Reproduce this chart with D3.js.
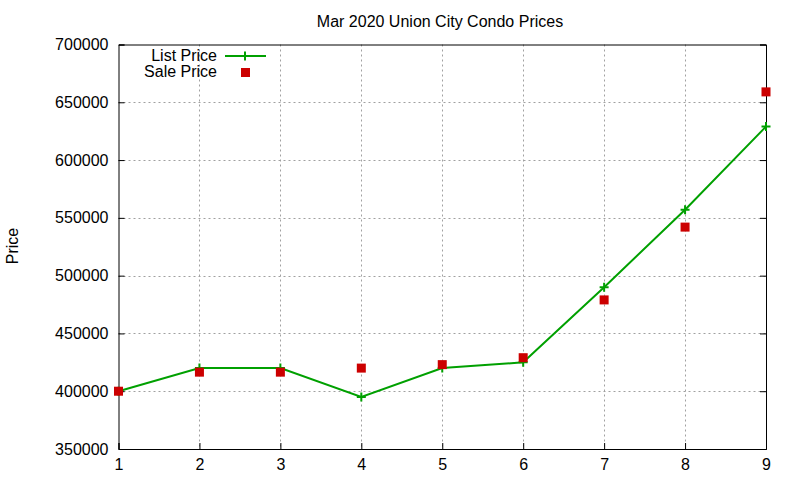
<!DOCTYPE html>
<html>
<head>
<meta charset="utf-8">
<script src="https://cdn.jsdelivr.net/npm/d3@7"></script>
<style>
  body { margin: 0; background: #fff; }
  text { font-family: "Liberation Sans", Arial, sans-serif; fill: #000; }
</style>
</head>
<body>
<div id="chart"></div>
<script>
// chart data
const months = [1, 2, 3, 4, 5, 6, 7, 8, 9];
const listPrice = [400000, 420000, 420000, 395000, 420000, 425000, 490000, 557000, 629000];
const salePrice = [400000, 416500, 416500, 420000, 423000, 429000, 479000, 542000, 659000];
const yTicks = [350000, 400000, 450000, 500000, 550000, 600000, 650000, 700000];

const width = 800, height = 480;
const margin = { top: 44.5, right: 34, bottom: 31, left: 118.5 };

const svg = d3.select('#chart').append('svg')
    .attr('width', width)
    .attr('height', height);

const x = d3.scaleLinear().domain([1, 9]).range([margin.left, width - margin.right]);
const y = d3.scaleLinear().domain([350000, 700000]).range([height - margin.bottom, margin.top]);

// grid
const grid = svg.append('g').attr('stroke', '#a0a0a0').attr('stroke-width', 1).attr('stroke-dasharray', '2,3');
months.slice(1, -1).forEach(m => {
    grid.append('line')
        .attr('x1', Math.round(x(m)) + 0.5).attr('x2', Math.round(x(m)) + 0.5)
        .attr('y1', y(700000)).attr('y2', y(350000));
});
yTicks.slice(1, -1).forEach(v => {
    grid.append('line')
        .attr('x1', x(1)).attr('x2', x(9))
        .attr('y1', Math.round(y(v)) + 0.5).attr('y2', Math.round(y(v)) + 0.5);
});

// axes (gnuplot style: inward ticks, y mirrored on the right)
const tick = 6;
svg.append('g')
    .attr('transform', `translate(${margin.left},0)`)
    .call(d3.axisLeft(y).tickValues(yTicks).tickSize(-tick).tickPadding(10).tickFormat(d3.format('d')))
    .call(g => g.selectAll('text').attr('font-size', 16));
svg.append('g')
    .attr('transform', `translate(${width - margin.right},0)`)
    .call(d3.axisRight(y).tickValues(yTicks).tickSize(-tick).tickFormat(''));
svg.append('g')
    .attr('transform', `translate(0,${height - margin.bottom})`)
    .call(d3.axisBottom(x).tickValues(months).tickSize(-tick).tickPadding(10).tickFormat(d3.format('d')))
    .call(g => g.selectAll('text').attr('font-size', 16));
svg.append('g')
    .attr('transform', `translate(0,${margin.top})`)
    .call(d3.axisTop(x).tickValues([]).tickSizeOuter(0));
svg.selectAll('.domain').attr('stroke', '#000').attr('stroke-width', 1);
svg.selectAll('.tick line').attr('stroke', '#000');

// list price line
const green = '#00a000';
svg.append('path')
    .datum(months)
    .attr('fill', 'none')
    .attr('stroke', green)
    .attr('stroke-width', 2)
    .attr('d', d3.line().x(m => x(m)).y((m, i) => y(listPrice[i])));

svg.append('g').selectAll('path')
    .data(months)
    .join('path')
    .attr('transform', (m, i) => `translate(${x(m)},${y(listPrice[i])})`)
    .attr('d', 'M-4.5,0H4.5M0,-4.5V4.5')
    .attr('stroke', green)
    .attr('stroke-width', 2);

// sale price points
const red = '#cc0000';
svg.append('g').selectAll('rect')
    .data(months)
    .join('rect')
    .attr('x', m => x(m) - 4.5)
    .attr('y', (m, i) => y(salePrice[i]) - 4.5)
    .attr('width', 9)
    .attr('height', 9)
    .attr('fill', red);

// title
svg.append('text')
    .attr('x', 440).attr('y', 27)
    .attr('text-anchor', 'middle')
    .attr('font-size', 16)
    .text('Mar 2020 Union City Condo Prices');

// y label
svg.append('text')
    .attr('transform', 'translate(18,246) rotate(-90)')
    .attr('text-anchor', 'middle')
    .attr('font-size', 16)
    .text('Price');

// legend
const legend = svg.append('g');
legend.append('text').attr('x', 217).attr('y', 61).attr('text-anchor', 'end').attr('font-size', 16).text('List Price');
legend.append('line').attr('x1', 225).attr('x2', 266).attr('y1', 56).attr('y2', 56)
    .attr('stroke', green).attr('stroke-width', 2);
legend.append('path').attr('transform', 'translate(245,56)').attr('d', 'M-4.5,0H4.5M0,-4.5V4.5')
    .attr('stroke', green).attr('stroke-width', 2);
legend.append('text').attr('x', 217).attr('y', 77).attr('text-anchor', 'end').attr('font-size', 16).text('Sale Price');
legend.append('rect').attr('x', 241).attr('y', 68).attr('width', 9).attr('height', 9).attr('fill', red);
</script>
</body>
</html>
